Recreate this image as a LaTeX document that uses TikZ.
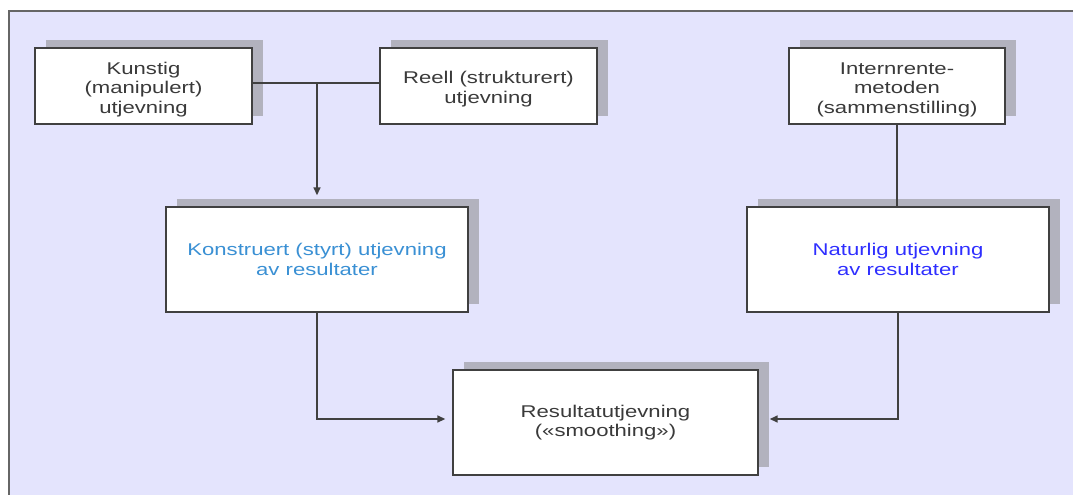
\documentclass[tikz,border=0pt]{standalone}
\usepackage{fontspec}
\setmainfont[FakeStretch=1.3]{Liberation Sans}
\usetikzlibrary{arrows.meta,shadows}
\definecolor{lav}{HTML}{E4E4FD}
\definecolor{shadowgray}{HTML}{B2B2BE}
\definecolor{edge}{HTML}{404040}
\definecolor{txt}{HTML}{3A3A3A}
\definecolor{lightblue}{HTML}{3A90D4}
\definecolor{deepblue}{HTML}{2F2FFF}
\newcommand\dnstrut{\rule{0pt}{19pt}}
\tikzset{
  box/.style={draw=edge, line width=1.4pt, fill=white, inner sep=0pt,
    align=center, text=txt, font=\fontsize{17}{19.5}\selectfont,
    general shadow={fill=shadowgray, shadow xshift=11pt, shadow yshift=8pt}},
  small/.style={box, minimum width=217pt, minimum height=76pt},
  big/.style={box, minimum width=302pt, minimum height=105pt},
  conn/.style={draw=edge, line width=1.6pt},
  arr/.style={conn, -{Triangle[length=8pt,width=7pt]}}
}
\begin{document}
\begin{tikzpicture}[x=1pt,y=-1pt]
\useasboundingbox (0,0) rectangle (1073,495);
\fill[lav] (8,11) rectangle (1073,495);
\draw[draw=edge!80, line width=1.8pt] (9,495) -- (9,11) -- (1073,11);

\node[small] (k) at (143.5,86) {\dnstrut Kunstig\\(manipulert)\\utjevning};
\node[small] (r) at (488.5,86) {\dnstrut Reell (strukturert)\\utjevning};
\node[small, minimum width=216pt] (i) at (897,86) {\dnstrut Internrente-\\metoden\\(sammenstilling)};
\node[big, text=lightblue] (c) at (317,259.5) {Konstruert (styrt) utjevning\\av resultater};
\node[big, text=deepblue] (n) at (898,259.5) {Naturlig utjevning\\av resultater};
\node[big, minimum width=305pt] (res) at (605.5,422.5) {Resultatutjevning\\(«smoothing»)};

\coordinate (ke) at ([yshift=3pt]k.east);
\coordinate (rw) at ([yshift=3pt]r.west);
\draw[conn] (ke) -- (rw);
\draw[arr, shorten >=11pt] (c.north |- ke) -- (c.north);
\draw[conn] (i.south) -- (i.south |- n.north);
\draw[arr] (c.south) |- ([xshift=-7pt,yshift=3.5pt]res.west);
\draw[arr] (n.south) |- ([xshift=11pt,yshift=3.5pt]res.east);
\end{tikzpicture}
\end{document}
